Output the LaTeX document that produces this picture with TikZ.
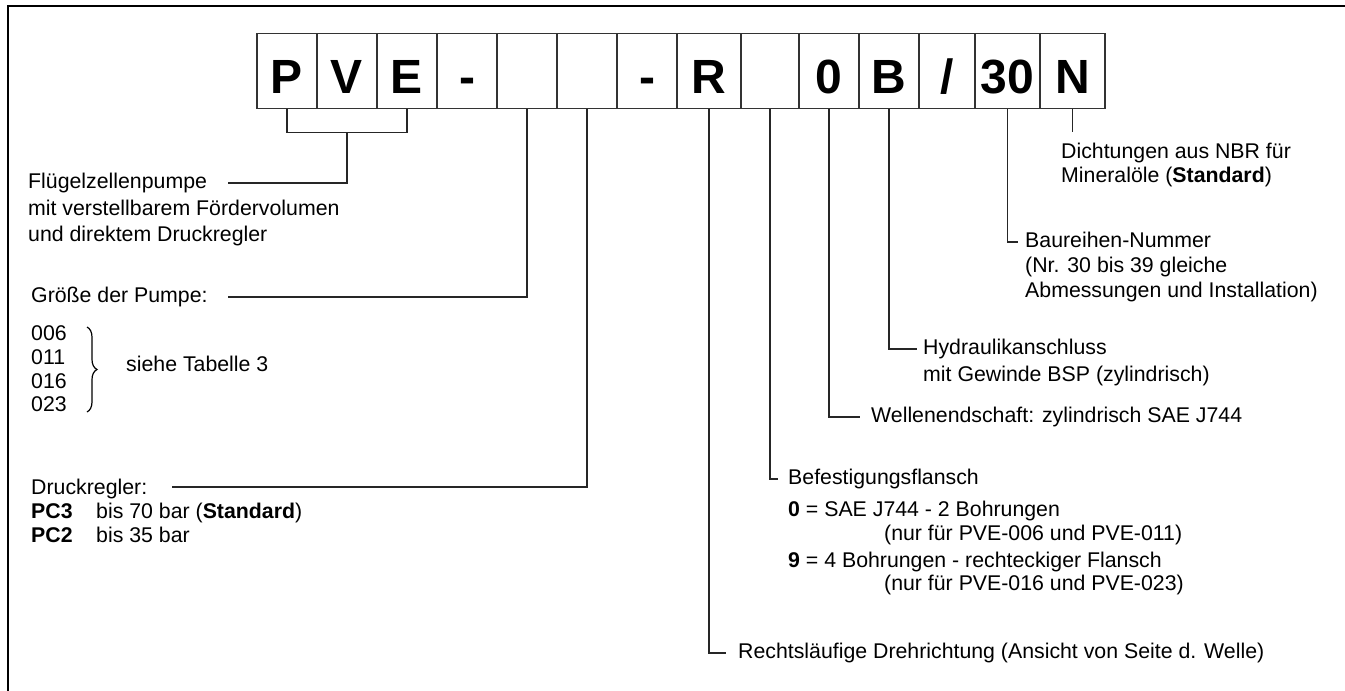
\documentclass[tikz,border=0pt]{standalone}
\usepackage{fontspec}
\setmainfont{Liberation Sans}
\usetikzlibrary{decorations.pathreplacing}

\begin{document}
\begin{tikzpicture}[x=1pt,y=-1pt,
    cell/.style={draw=black!80,line width=1.2pt,minimum height=75pt,inner sep=0pt,
      text height=44.6pt,text depth=0pt,font=\fontsize{48}{48}\selectfont\bfseries},
    lbl/.style={anchor=west,inner sep=0pt,text height=15pt,text depth=4pt,
      font=\fontsize{21.3}{25}\selectfont},
    conn/.style={draw=black!85,line width=1.2pt}]
\useasboundingbox (0,0) rectangle (1345,691);
\draw[line width=2pt] (8,691) -- (8,6) -- (1345,6);
\node[cell,minimum width=60pt] (cP) at (287,71) {P};
\node[cell,minimum width=60pt] (cV) at (347,71) {V};
\node[cell,minimum width=60pt] (cE) at (407,71) {E};
\node[cell,minimum width=60pt] (cDashA) at (467,71) {-};
\node[cell,minimum width=60pt] (cSizeA) at (527,71) {};
\node[cell,minimum width=60pt] (cSizeB) at (587,71) {};
\node[cell,minimum width=60pt] (cDashB) at (647,71) {-};
\node[cell,minimum width=64pt] (cR) at (709,71) {R};
\node[cell,minimum width=58pt] (cFlange) at (770,71) {};
\node[cell,minimum width=60pt] (cShaft) at (829,71) {0};
\node[cell,minimum width=60pt] (cB) at (889,71) {B};
\node[cell,minimum width=56pt] (cSlash) at (947,71) {/};
\node[cell,minimum width=65pt] (cSeries) at (1007.5,71) {30};
\node[cell,minimum width=65pt] (cN) at (1072.5,71) {N};
\node[lbl] (fluegel) at (28,183) {Flügelzellenpumpe};
\node[lbl] (fluegelB) at (28,210) {mit verstellbarem Fördervolumen};
\node[lbl] (fluegelC) at (28,236) {und direktem Druckregler};
\node[lbl] (groesse) at (31,297) {Größe der Pumpe:};
\node[lbl] (sizeA) at (31,335) {006};
\node[lbl] (sizeB) at (31,359) {011};
\node[lbl] (sizeC) at (31,383) {016};
\node[lbl] (sizeD) at (31,406) {023};
\draw[line width=1.2pt,decorate,decoration={brace,amplitude=10pt}] (87,327) -- (87,412);
\node[lbl] (tabelle) at (126,366) {siehe Tabelle 3};
\node[lbl] (druck) at (31,489) {Druckregler:};
\node[lbl] (pcA) at (31,513) {\bfseries PC3};
\node[lbl] (pcAtext) at (96,513) {bis 70 bar (\textbf{Standard})};
\node[lbl] (pcB) at (31,537) {\bfseries PC2};
\node[lbl] (pcBtext) at (96,537) {bis 35 bar};
\node[lbl] (dicht) at (1061,153) {Dichtungen aus NBR für};
\node[lbl] (dichtB) at (1061,177) {Mineralöle (\textbf{Standard})};
\node[lbl,inner xsep=7pt] (baureihe) at (1018,242) {Baureihen-Nummer};
\node[lbl] (baureiheB) at (1025,267) {(Nr. 30 bis 39 gleiche};
\node[lbl] (baureiheC) at (1025,292) {Abmessungen und Installation)};
\node[lbl,inner xsep=6pt] (hydr) at (917,349) {Hydraulikanschluss};
\node[lbl] (hydrB) at (923,376) {mit Gewinde BSP (zylindrisch)};
\node[lbl,inner xsep=11pt] (welle) at (860,417) {Wellenendschaft: zylindrisch SAE J744};
\node[lbl,inner xsep=10pt] (flansch) at (778,479) {Befestigungsflansch};
\node[lbl] (flanschA) at (788,511) {\textbf{0} = SAE J744 - 2 Bohrungen};
\node[lbl] (flanschAn) at (884,535) {(nur für PVE-006 und PVE-011)};
\node[lbl] (flanschB) at (788,562) {\textbf{9} = 4 Bohrungen - rechteckiger Flansch};
\node[lbl] (flanschBn) at (884,585) {(nur für PVE-016 und PVE-023)};
\node[lbl,inner xsep=12pt] (dreh) at (726,653) {Rechtsläufige Drehrichtung (Ansicht von Seite d. Welle)};
\coordinate (pvemid) at (347,132);
\coordinate (fluegelend) at (228,183);
\coordinate (groesseend) at (228,297);
\coordinate (druckend) at (172,487);
\coordinate (nend) at (1072.5,132);
\draw[conn] (cP.south) -- ++(0,23) -| (cE.south);
\draw[conn] (pvemid) |- (fluegelend);
\draw[conn] (cSizeA.south) |- (groesseend);
\draw[conn] (cSizeB.south) |- (druckend);
\draw[conn] (cR.south) |- (dreh.west);
\draw[conn] (cFlange.south) |- (flansch.west);
\draw[conn] (cShaft.south) |- (welle.west);
\draw[conn] (cB.south) |- (hydr.west);
\draw[conn] (cSeries.south) |- (baureihe.west);
\draw[conn] (cN.south) -- (nend);
\end{tikzpicture}
\end{document}
